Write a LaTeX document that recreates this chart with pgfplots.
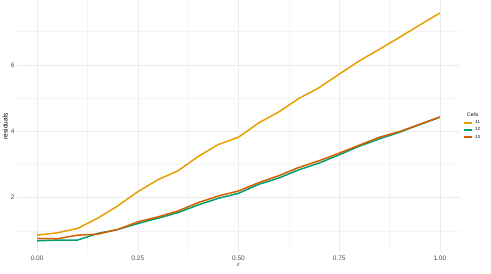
\documentclass[border=0pt]{standalone}
\usepackage{pgfplots}
\pgfplotsset{compat=1.18}
\usepackage{fontspec}
\setmainfont{Liberation Sans}
\definecolor{c11}{HTML}{E69F00}
\definecolor{c12}{HTML}{009E73}
\definecolor{c13}{HTML}{D55E00}
\definecolor{gmaj}{HTML}{EBEBEB}
\definecolor{gmin}{HTML}{F4F4F4}
\definecolor{txt}{HTML}{4D4D4D}
\begin{document}
\begin{tikzpicture}
\begin{axis}[
  scale only axis, width=443pt, height=252pt,
  xmin=-0.05, xmax=1.05, ymin=0.355, ymax=7.945,
  axis line style={draw=none},
  tick style={draw=none},
  xtick={0,0.25,0.5,0.75,1},
  xticklabels={0.00,0.25,0.50,0.75,1.00},
  minor xtick={0.125,0.375,0.625,0.875},
  ytick={2,4,6},
  minor ytick={1,3,5,7},
  grid=both,
  major grid style={draw=gmaj, line width=0.5pt},
  minor grid style={draw=gmin, line width=0.3pt},
  ticklabel style={font=\fontsize{6.5}{7}\selectfont, text=txt},
  /pgf/number format/assume math mode=true,
  xticklabel style={yshift=0pt},
  yticklabel style={xshift=1pt},
  xlabel={$\varepsilon$}, ylabel={residuals},
  label style={font=\fontsize{6.5}{7}\selectfont, inner sep=0pt},
  xlabel style={at={(axis description cs:0.5,0)}, anchor=north, yshift=-11pt},
  ylabel style={at={(axis description cs:0,0.5)}, anchor=south, yshift=9pt},
  legend style={at={(1.0,0.5)}, anchor=west, draw=none, fill=none,
    font=\fontsize{4.5}{5}\selectfont, row sep=-1.5pt, xshift=0pt},
  legend cell align=left,
  legend image code/.code={\draw[#1, line width=1.5pt] (0cm,0cm) -- (0.3cm,0cm);},
  clip=false,
]
\addlegendimage{empty legend}
\addlegendentry{\hspace{-8pt}\fontsize{5}{6}\selectfont Cells}
\addplot[c11, line width=1.5pt] coordinates {
(0,0.87)(0.05,0.94)(0.10,1.07)(0.15,1.38)(0.20,1.75)(0.25,2.18)(0.30,2.54)(0.35,2.81)(0.40,3.24)(0.45,3.60)(0.50,3.82)(0.55,4.25)(0.60,4.58)(0.65,4.99)(0.70,5.31)(0.75,5.72)(0.80,6.12)(0.85,6.47)(0.90,6.83)(0.95,7.20)(1.00,7.56)};
\addlegendentry{11}
\addplot[c12, line width=1.5pt] coordinates {
(0,0.70)(0.05,0.72)(0.10,0.72)(0.15,0.92)(0.20,1.04)(0.25,1.22)(0.30,1.38)(0.35,1.55)(0.40,1.78)(0.45,1.98)(0.50,2.13)(0.55,2.40)(0.60,2.59)(0.65,2.84)(0.70,3.04)(0.75,3.29)(0.80,3.55)(0.85,3.77)(0.90,3.97)(0.95,4.20)(1.00,4.42)};
\addlegendentry{12}
\addplot[c13, line width=1.5pt] coordinates {
(0,0.77)(0.05,0.76)(0.10,0.87)(0.15,0.90)(0.20,1.04)(0.25,1.27)(0.30,1.42)(0.35,1.60)(0.40,1.85)(0.45,2.05)(0.50,2.20)(0.55,2.45)(0.60,2.66)(0.65,2.91)(0.70,3.11)(0.75,3.34)(0.80,3.58)(0.85,3.82)(0.90,3.99)(0.95,4.21)(1.00,4.43)};
\addlegendentry{13}
\end{axis}
\path[use as bounding box] (-17pt,-21pt) rectangle (474pt,252pt);
\end{tikzpicture}
\end{document}
